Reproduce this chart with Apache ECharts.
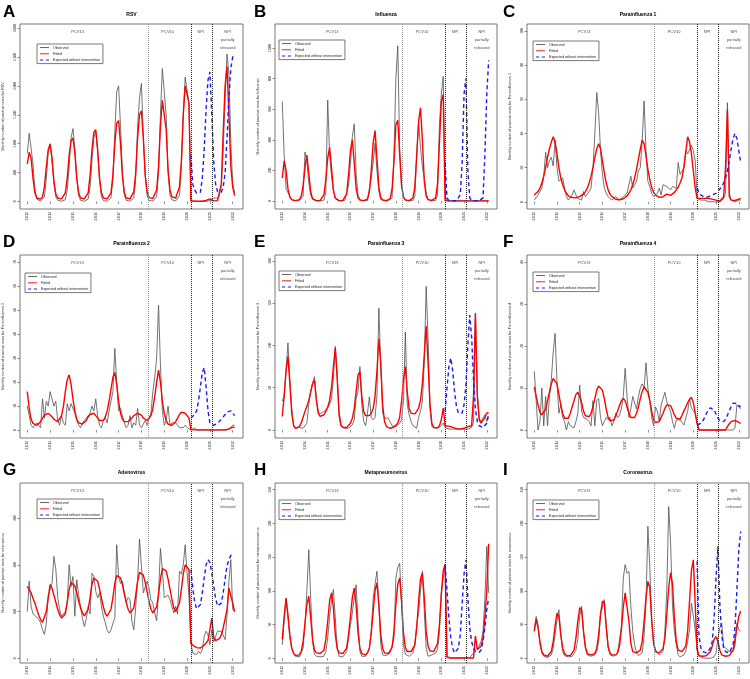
<!DOCTYPE html>
<html><head><meta charset="utf-8">
<script src="https://cdn.jsdelivr.net/npm/echarts@6/dist/echarts.min.js"></script>
<style>html,body{margin:0;padding:0;background:#fff}#c{width:750px;height:679px}</style>
</head><body><div id="c"></div>
<script>
// ---------- DATA ----------
const startYear = 2013;            // first monthly point: Jan 2013
const expectedStartIndex = 86;     // Mar 2020
const yearTicks = [2013, 2014, 2015, 2016, 2017, 2018, 2019, 2020, 2021, 2022];
const periodBreaks = [2018.3, 2020.17, 2021.1];
const periodLabels = ['PCV13', 'PCV10', 'NPI', 'NPI\npartially\nreleased'];
const periodLabelX = [2015.2, 2019.15, 2020.6, 2021.78];
const seriesNames = ['Observed', 'Fitted', 'Expected without intervention'];
const panelLetters = ['A', 'B', 'C', 'D', 'E', 'F', 'G', 'H', 'I'];
const panelTitles = ['RSV', 'Influenza', 'Parainfluenza 1', 'Parainfluenza 2', 'Parainfluenza 3', 'Parainfluenza 4', 'Adenovirus', 'Metapneumovirus', 'Coronavirus'];
const yAxisNames = [
  'Monthly number of positive tests for RSV',
  'Monthly number of positive tests for Influenza',
  'Monthly number of positive tests for Parainfluenza 1',
  'Monthly number of positive tests for Parainfluenza 2',
  'Monthly number of positive tests for Parainfluenza 3',
  'Monthly number of positive tests for Parainfluenza 4',
  'Monthly number of positive tests for adenovirus',
  'Monthly number of positive tests for metapneumovirus',
  'Monthly number of positive tests for coronavirus'
];
const rsvTicks = [0, 500, 1000, 1500, 2000, 2500, 3000];
const fluTicks = [0, 200, 400, 600, 800, 1000];
const piv1Ticks = [0, 20, 40, 60, 80, 100];
const piv2Ticks = [0, 10, 20, 30, 40, 50, 60, 70];
const piv3Ticks = [0, 50, 100, 150, 200];
const piv4Ticks = [0, 10, 20, 30, 40];
const adenoTicks = [0, 100, 200, 300];
const hmpvTicks = [0, 50, 100, 150, 200, 250];
const coronaTicks = [0, 50, 100, 150, 200, 250];

const rsvObserved = [
 830,1180,1200,650,200,40,10,5,10,80,400,850,
 1000,700,300,80,20,5,5,5,30,200,600,1100,
 1260,900,400,100,20,5,5,10,40,250,700,1100,
 1210,850,350,80,15,5,5,10,60,400,1200,1900,
 2000,1300,500,120,20,5,5,10,60,400,1300,1800,
 2040,1100,450,100,20,5,5,15,80,500,1500,2300,
 2310,1500,500,120,30,10,10,20,100,600,1500,2150,
 2170,1700,60,5,2,2,2,2,2,3,5,8,
 10,20,60,80,60,100,300,900,1800,2550,2200,1000,
 300,150];
const rsvFitted = [
 650,850,750,400,150,60,40,40,80,250,600,900,
 990,750,350,130,60,45,45,60,150,400,800,1050,
 1100,850,400,150,60,45,45,60,150,450,900,1200,
 1240,900,400,150,60,45,45,60,150,450,1000,1350,
 1400,1000,450,150,60,45,45,60,170,500,1100,1500,
 1570,1100,450,170,70,50,50,70,200,600,1300,1750,
 1770,1250,550,200,80,60,60,80,250,700,1500,2000,
 2000,1700,10,5,5,5,5,5,5,10,20,40,
 45,30,10,10,15,40,300,1200,2000,2340,1500,600,
 250,100];
const rsvExpected = [800,300,200,145,130,160,400,900,1600,2100,2240,1500,700,300,170,140,160,250,500,1100,1800,2300,2500,2550];

const fluObserved = [
 650,300,80,70,30,5,2,1,1,2,5,30,
 320,260,120,40,10,3,1,1,1,2,5,60,
 660,300,160,70,20,5,2,1,1,3,15,100,
 250,420,505,180,40,8,2,1,1,3,15,150,
 250,380,200,60,10,3,1,1,1,3,20,300,
 800,1015,350,100,25,5,2,1,1,3,30,300,
 513,350,220,150,50,10,2,1,1,3,40,500,
 700,815,30,1,0,0,0,0,0,0,0,0,
 0,0,0,0,0,0,0,0,0,0,0,0,
 0,0];
const fluFitted = [
 150,263,200,80,25,8,3,2,3,8,30,100,
 220,300,180,60,15,4,2,2,3,10,40,140,
 280,350,220,70,18,5,2,2,3,10,45,170,
 330,400,250,80,20,5,2,2,3,12,60,200,
 380,460,280,90,22,6,2,2,4,15,80,260,
 500,528,300,100,25,6,2,2,4,18,90,300,
 520,610,400,130,30,8,3,3,5,20,110,380,
 650,697,2,0,0,0,0,0,0,0,0,0,
 0,0,0,0,0,0,0,0,0,0,0,0,
 0,0];
const fluExpected = [250,20,2,1,1,1,1,5,40,250,700,800,200,20,2,1,1,1,1,2,20,300,700,920];

const piv1Observed = [
 1,2,4,5,8,15,29,20,24,26,21,36,
 20,12,11,14,8,3,1,2,4,7,4,2,
 2,1,6,3,4,6,8,20,40,64,52,30,
 16,8,5,3,2,1,2,3,2,1,2,3,
 2,5,6,15,8,10,12,18,20,36,59,30,
 12,9,5,3,2,5,8,4,10,11,9,10,
 7,9,10,8,23,16,18,20,30,28,29,33,
 30,24,2,1,1,0,1,0,0,1,0,0,
 0,0,0,1,2,5,58,5,1,1,0,1,
 1,1];
const piv1Fitted = [
 4,5,6,8,11,15,20,26,31,35,38,35,
 28,20,14,10,7,5,3.5,3,2.5,2,2.3,2.8,
 3,3.5,4.5,6,8,11,15,20,26,31,34,31,
 24,17,11,7,4.5,3,2,1.5,1.2,1.2,1.4,1.8,
 2.5,3.5,5,7,10,14,19,25,31,36,34,27,
 19,13,8.5,5.5,4,3,2.6,2.6,3,3.5,4.5,5.5,
 3.8,4.5,5.5,7,8.5,11,14,20,29,38,35,28,
 18,8,2,2,2,2,2,2,2,1.8,1.6,1.5,
 1,0.5,0.3,0.5,3,20,54,3,1,0.5,0.8,1.2,
 1.5,2];
const piv1Expected = [8,5.5,4,3,2.6,2.6,3,3.5,4,4.5,5,6,7.5,9,11,14,18,24,31,37,40,37,30,23];

const piv2Observed = [
 10,6,2,1,2,3,2,1,13,5,12,10,
 16,13,10,12,4,2,6,3,2,11,8,11,
 11,7,4,2,1,3,4,5,6,7,10,8,
 13,6,2,1,4,5,3,8,12,16,34,20,
 8,9,6,3,1,2,6,1,3,2,9,2,
 1,0.5,4,2,5,7,16,22,30,52,27,8,
 2,4,10,2,3,3,3,2,1,1,1,2,
 1,0.5,0,0,1,0,0,0,0,0,0,0,
 0,0,0,0,0,0,0,0,0,0,0.5,1,
 2,2];
const piv2Fitted = [
 16,9,4.5,2.8,2.2,2,2.5,3.5,5,6.2,7,7,
 6.5,5.5,4.5,3.8,3.5,4,6,10,16,21,23,19,
 13,8,4.5,3,2.5,2.5,3,4,5.5,6.5,7,7,
 6,5,4,3.5,4,5.5,8,12,17,22,24,19,
 12,7,4.5,3.5,3.2,3.5,4,5,6,6.8,7,7,
 6.2,5,4.2,4,4.5,6,9,14,20,25,20,12,
 7,4,2.5,2,2,2.5,3.5,5,6.5,7.5,7.6,7,
 6,5,0.2,0.1,0.1,0.1,0.1,0.1,0.1,0.1,0.1,0.1,
 0.1,0.1,0.1,0.1,0.1,0.1,0.1,0.1,0.1,0.1,0.5,1,
 1.2,1];
const piv2Expected = [5,5.5,6.5,8,12,18,24,26,18,8,3,2.2,2,2.2,2.8,3.5,4.5,5.5,6.5,7.5,8.3,8,7,6];

const piv3Observed = [
 34,41,70,103,60,25,5,2,2,3,4,2,
 2,8,30,45,55,63,37,22,19,20,22,24,
 26,30,37,60,99,69,15,4,3,2,4,2,
 3,6,12,37,45,75,30,10,5,20,39,15,
 12,15,40,144,77,20,14,16,14,14,5,3,
 4,4,8,12,34,116,30,18,10,5,3,2,
 15,22,34,80,170,108,25,4,2,2,3,3,
 4,8,3,1,1,1,1,1,1,1,1,1,
 1,1,1,1,3,10,138,45,14,10,8,18,
 10,15];
const piv3Fitted = [
 16,40,70,87,55,20,5,2,2.5,4,8,15,
 22,28,35,45,55,59,35,20,16,16,18,22,
 27,35,50,75,97,60,20,6,3,2.5,3,5,
 8,14,25,45,65,69,40,22,17,16,17,20,
 25,40,70,108,80,30,10,4,2.5,2,2.5,3.5,
 5,8,15,34,60,75,45,25,20,18,19,22,
 26,35,55,89,123,80,30,8,3,2,2.5,5,
 12,26,5,5,4.5,4,3,2,1.5,1,1,1.5,
 2,3,4,4.5,5,40,138,40,12,8,8,15,
 20,20];
const piv3Expected = [22,50,75,85,70,45,28,20,18,20,30,53,100,136,110,60,25,10,5,4,3,4,8,20];

const piv4Observed = [
 14,7,0,2,10,1,8,1,8,12,18.6,23,
 11.5,4,6,3,2,0,2,1,1,0.5,2,4,
 10.7,4.5,3,3,2.5,2,1,7,1,7,7.5,3,
 1,2,3,2.5,3,1,2,4,3,3.5,5,8,
 14.7,8,3,5,8,8,5,8,10,11,10,16,
 10,7,3,1,5.5,4.5,2,6,7.5,9,6.7,5.5,
 4.4,2,0.4,2.4,2,2.4,2,1.2,1.6,4.4,7.5,5.2,
 5,4,1.5,0,0,0,0,0,0,0,0,0,
 0,0,0,0,0,0,0,0,0,0,0.5,6,
 5.5,5];
const piv4Fitted = [
 10.3,8,6,4.2,3.6,4,5,7,9,11,12.3,12.7,
 11,8.5,6,4,2.8,2.4,2.8,4,5.5,7,8.5,9,
 8,6.5,4.5,3.4,3,3.2,4,5.5,7.5,9.5,10.5,10.7,
 9.5,7.5,5,3,2.2,2,2.4,3.3,4.5,5.8,7,7.5,
 7,5.5,4,3,2.8,3,4,5.5,7.5,9.2,10.3,10.5,
 9,7,4.5,2.5,1.8,1.6,2,3,4,5.2,6,6.3,
 5.8,4.8,3.6,2.8,2.4,2.6,3.5,4.5,5.5,6.5,7.3,7.8,
 6.5,4,1.6,0,0,0,0,0,0,0,0,0,
 0,0,0,0,0,0,0.8,1.5,2,2.4,2.3,2,
 1.8,1.6];
const piv4Expected = [1.2,1.3,1.6,2.2,3,4,4.8,5.3,5.5,4.8,3.8,2.8,2.2,2,2,2.5,3.5,4.6,5.6,6.4,6.7,6.3,5.8,5.5];

const adenoObserved = [
 100,165,111,95,93,88,83,76,61,51,75,133,
 147,160,218,190,130,104,90,88,100,120,200,154,
 175,90,168,136,110,85,68,85,111,95,182,175,
 143,129,140,110,90,76,60,54,61,75,86,243,
 175,160,165,140,120,130,125,79,61,110,168,255,
 197,140,140,165,150,125,118,97,80,140,235,190,
 130,133,135,125,111,97,111,95,186,180,200,243,
 182,133,33,11,8,8,15,10,18,47,58,50,
 29,61,35,38,58,58,58,55,40,93,165,211,
 104,100];
const adenoFitted = [
 154,150,140,128,118,105,92,83,77,80,100,130,
 158,150,135,120,105,93,86,83,95,120,148,162,
 165,155,140,122,108,97,91,90,105,130,158,172,
 173,165,148,128,110,96,90,92,105,130,160,177,
 179,172,158,138,120,105,97,97,108,135,165,184,
 186,178,162,142,122,105,97,98,110,138,170,192,
 195,187,170,148,127,108,100,102,118,148,180,200,
 202,190,33,28,25,23,22,22,24,28,33,38,
 40,86,45,38,36,42,50,65,85,104,150,153,
 118,100];
const adenoExpected = [190,150,120,106,104,115,140,172,200,211,205,182,155,128,112,108,118,140,170,198,211,220,222,222];

const hmpvObserved = [
 20,55,89,60,30,15,8,3,2,2,4,15,
 50,100,161,90,25,6,3,2,2,2,3,10,
 30,62,85,102,60,15,3,2,2,3,10,30,
 50,67,90,109,55,10,3,2,3,5,15,40,
 89,110,129,80,20,5,3,4,5,8,9,30,
 119,135,141,80,20,6,4,3,4,8,20,50,
 67,100,129,70,15,3,4,5,3,8,13,40,
 97,120,136,3,1,0.5,0.5,0.5,0.5,0.5,0.5,0.5,
 1,1,1,1,3,8,13,15,18,25,40,87,
 166,97];
const hmpvFitted = [
 28,62,89,65,35,15,7,4,4,5,10,25,
 52,80,92,60,28,12,8,7,7,8,12,28,
 55,85,97,75,35,15,8,7,7,9,15,35,
 62,90,104,80,38,15,7,5,5,8,15,38,
 70,100,112,80,35,15,8,7,7,9,16,40,
 80,110,119,85,38,16,10,10,10,12,20,45,
 85,118,126,90,40,18,11,10,10,12,22,50,
 95,130,139,1,0.5,0.5,0.5,0.5,0.5,0.5,0.5,0.5,
 0.5,0.5,0.5,0.5,0.5,0.5,33,13,15,18,30,60,
 100,170];
const hmpvExpected = [139,100,60,30,15,8,8,15,35,80,125,146,90,45,25,14,10,9,9,12,25,45,72,90];

const coronaObserved = [
 42,62,50,20,8,3,1,1,2,5,15,35,
 57,72,35,10,4,3,2,2,3,5,12,28,
 62,77,40,15,5,3,3,3,5,10,25,67,
 75,87,50,15,5,3,3,5,8,8,47,119,
 139,126,129,77,40,20,8,4,3,8,33,82,
 196,136,52,25,13,8,5,6,10,40,102,225,
 171,77,40,20,5,2,3,5,10,25,42,82,
 62,42,13,3,1,0.5,0,0,0,0,0.5,2,
 8,30,45,52,18,15,13,10,8,10,18,52,
 42,40];
const coronaFitted = [
 40,58,45,25,10,5,3,3,4,10,25,48,
 67,62,35,15,7,4,4,4,6,12,30,55,
 75,72,40,17,7,5,5,5,7,15,35,65,
 85,82,45,18,8,5,5,5,8,18,42,75,
 97,95,55,22,10,8,8,9,12,25,55,90,
 114,105,58,22,10,8,8,9,14,30,65,105,
 127,110,60,25,12,10,10,11,18,40,85,130,
 146,144,13,4,3,3,3,4,6,10,18,28,
 32,25,12,5,3,3,3,4,6,12,28,45,
 62,70];
const coronaExpected = [144,33,15,10,8,8,10,15,25,60,120,166,80,35,15,10,8,8,10,20,45,100,160,188];

// ---------- LAYOUT / STYLE ----------
const panelData = [
  [rsvObserved, rsvFitted, rsvExpected, rsvTicks, [-130, 3070]],
  [fluObserved, fluFitted, fluExpected, fluTicks, [-53, 1158]],
  [piv1Observed, piv1Fitted, piv1Expected, piv1Ticks, [-4.2, 104]],
  [piv2Observed, piv2Fitted, piv2Expected, piv2Ticks, [-3.3, 72.9]],
  [piv3Observed, piv3Fitted, piv3Expected, piv3Ticks, [-9.5, 207]],
  [piv4Observed, piv4Fitted, piv4Expected, piv4Ticks, [-1.9, 41.7]],
  [adenoObserved, adenoFitted, adenoExpected, adenoTicks, [-10, 375]],
  [hmpvObserved, hmpvFitted, hmpvExpected, hmpvTicks, [-7, 260]],
  [coronaObserved, coronaFitted, coronaExpected, coronaTicks, [-7, 260]]
];
const colLeft = [20, 275, 527], colWidth = [223, 222, 222];
const rowTop = [24, 255, 483], rowHeight = [185, 183, 180];
const letterLeft = [3, 254, 503], letterTop = [4, 234, 462];
const titleTop = [12, 241, 470];
const legendPos = [[37,44],[279,40],[533,41],[25,273],[279,271],[533,272],[37,499],[279,500],[533,500]];
const xRange = [2012.68, 2022.45];
const FONT = 'Liberation Sans, Arial, Helvetica, sans-serif';
const lineColors = ['#505050', '#ff0000', '#1a1aff'];
const legendIcons = [
  'path://M0,0H10V1H0Z',
  'path://M0,0H10V1H0Z',
  'path://M0,0H3.5V1H0Z M6.5,0H10V1H6.5Z'
];
const legendIconHeights = [0.8, 1.4, 1.3];

const toXY = (arr, offset) => arr.map((v, i) => [startYear + (i + offset) / 12, v]);

const option = {
  animation: false,
  backgroundColor: '#fff',
  textStyle: { fontFamily: FONT },
  title: [], grid: [], xAxis: [], yAxis: [], series: [], legend: []
};

panelData.forEach((pd, k) => {
  const col = k % 3, row = Math.floor(k / 3);
  const [obs, fit, exp, ticks, yr] = pd;
  option.grid.push({ left: colLeft[col], top: rowTop[row], width: colWidth[col], height: rowHeight[row],
    show: true, borderColor: '#555', borderWidth: 0.8, backgroundColor: 'transparent' });
  option.title.push({ text: panelLetters[k], left: letterLeft[col], top: letterTop[row],
    textStyle: { fontSize: 17, fontWeight: 'bold', color: '#000', fontFamily: FONT }, padding: 0 });
  option.title.push({ text: panelTitles[k], left: colLeft[col] + colWidth[col] / 2, top: titleTop[row], textAlign: 'center',
    textStyle: { fontSize: 5, fontWeight: 'bold', color: '#000', fontFamily: FONT }, padding: 0 });
  option.xAxis.push({ type: 'value', gridIndex: k, min: xRange[0], max: xRange[1],
    axisLine: { show: false }, splitLine: { show: false },
    axisTick: { show: true, length: 2.5, customValues: yearTicks, lineStyle: { color: '#444', width: 0.6 } },
    axisLabel: { show: true, customValues: yearTicks, rotate: 90, fontSize: 3.4, color: '#333', margin: 3, fontFamily: FONT } });
  option.yAxis.push({ type: 'value', gridIndex: k, min: yr[0], max: yr[1],
    name: yAxisNames[k], nameLocation: 'middle', nameGap: 15,
    nameTextStyle: { fontSize: 3.8, color: '#333', fontFamily: FONT },
    axisLine: { show: false }, splitLine: { show: false },
    axisTick: { show: true, length: 2.5, customValues: ticks, lineStyle: { color: '#444', width: 0.6 } },
    axisLabel: { show: true, customValues: ticks, rotate: 90, fontSize: 3.2, color: '#333', margin: 3, fontFamily: FONT } });
  option.series.push({ name: seriesNames[0], type: 'line', xAxisIndex: k, yAxisIndex: k, data: toXY(obs, 0),
    symbol: 'none', lineStyle: { color: lineColors[0], width: 0.8 }, itemStyle: { color: lineColors[0] }, z: 2 });
  option.series.push({ name: seriesNames[1], type: 'line', xAxisIndex: k, yAxisIndex: k, data: toXY(fit, 0),
    symbol: 'none', lineStyle: { color: lineColors[1], width: 1.4 }, itemStyle: { color: lineColors[1] }, z: 3,
    markLine: { silent: true, symbol: ['none', 'none'], label: { show: false },
      lineStyle: { type: 'dotted', width: 1 },
      data: periodBreaks.map((x, j) => ({ xAxis: x, lineStyle: { color: j === 0 ? '#999' : '#222', type: 'dotted', width: 1 } })) } });
  option.series.push({ name: seriesNames[2], type: 'line', xAxisIndex: k, yAxisIndex: k, data: toXY(exp, expectedStartIndex),
    symbol: 'none', lineStyle: { color: lineColors[2], width: 1.4, type: [4, 3] }, itemStyle: { color: lineColors[2] }, z: 4 });
  const yPos = yr[1] - 0.02 * (yr[1] - yr[0]);
  option.series.push({ type: 'scatter', xAxisIndex: k, yAxisIndex: k, symbolSize: 0, silent: true, z: 5,
    data: periodLabelX.map((x, j) => ({ name: periodLabels[j], value: [x, yPos],
      label: { show: true, formatter: '{b}', position: 'bottom', distance: j === 3 ? 0 : 2,
        lineHeight: j === 3 ? 8 : 5, fontSize: 4, color: '#222', fontFamily: FONT } })) });
  option.legend.push({ left: legendPos[k][0], top: legendPos[k][1], orient: 'vertical',
    data: seriesNames.map((n, j) => ({ name: n, icon: legendIcons[j],
      itemStyle: { color: lineColors[j], borderWidth: 0 } })),
    itemWidth: 9, itemHeight: 1.2, itemGap: 2, padding: [1.5, 3, 1.5, 3],
    borderColor: '#555', borderWidth: 0.8, selectedMode: false,
    textStyle: { fontSize: 3.6, lineHeight: 4.2, color: '#222', fontFamily: FONT, padding: [0, 0, 0, -1] } });
});

const chart = echarts.init(document.getElementById('c'), null, { renderer: 'canvas' });
chart.setOption(option);
</script>
</body></html>
